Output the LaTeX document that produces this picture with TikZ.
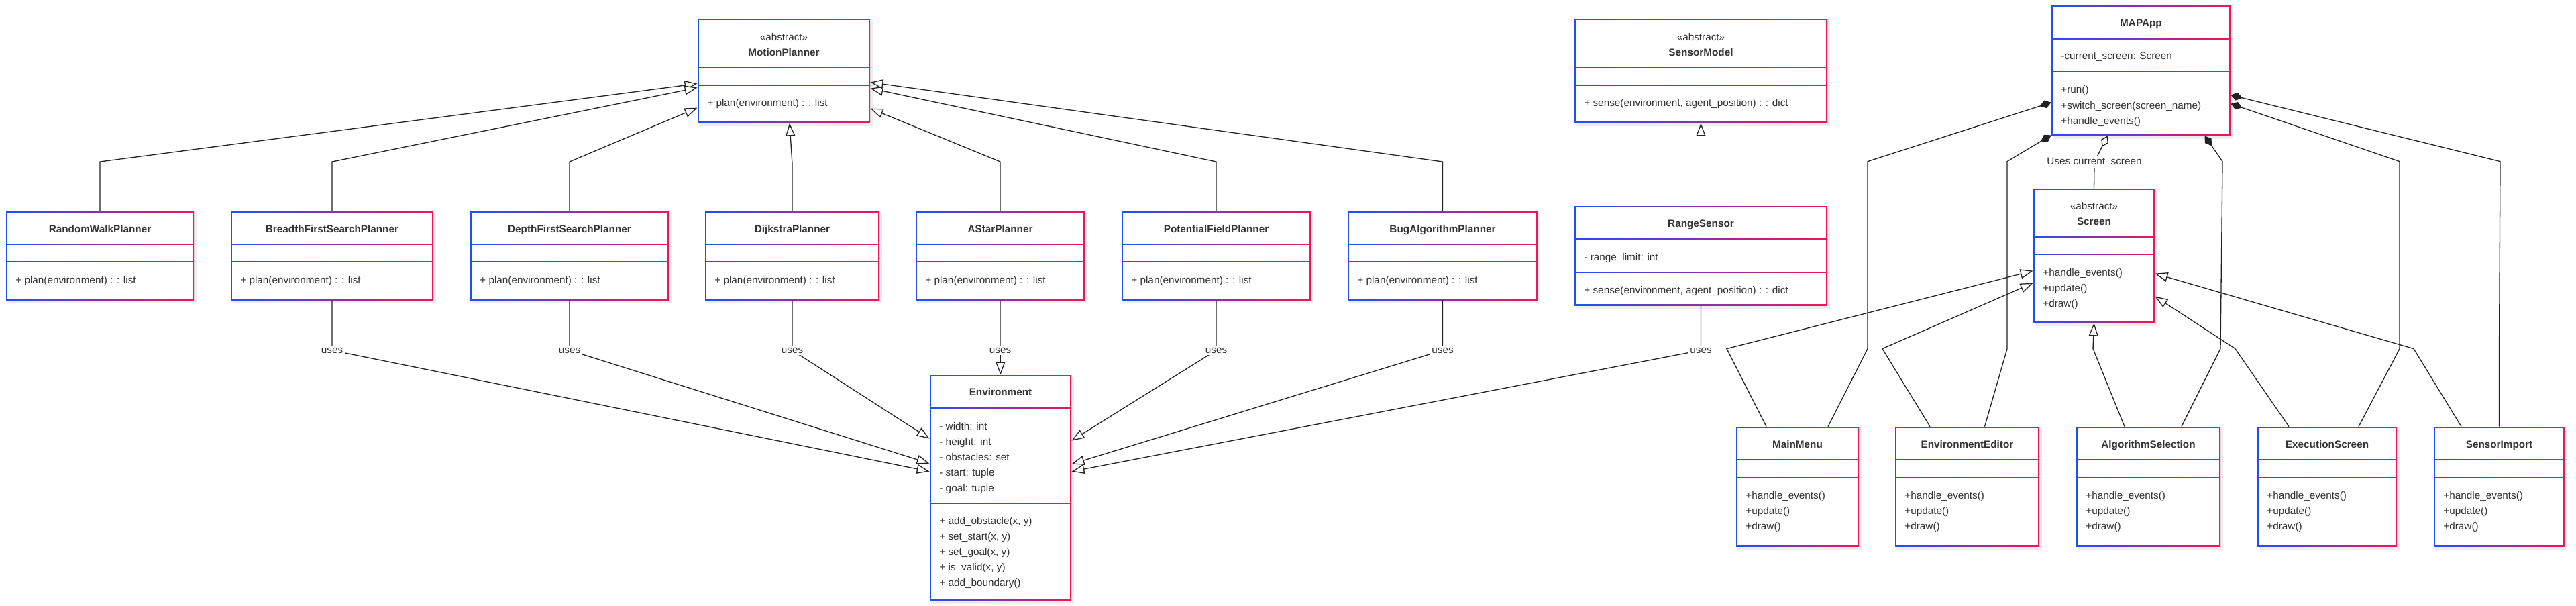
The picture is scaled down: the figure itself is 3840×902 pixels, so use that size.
\documentclass[tikz,border=0pt]{standalone}
\usepackage{fontspec}
\setmainfont{Liberation Sans}
\usetikzlibrary{arrows.meta,calc,fit}
\definecolor{cblue}{HTML}{1E50F5}
\definecolor{cred}{HTML}{F0145A}
\definecolor{txt}{HTML}{333333}
\definecolor{ln}{HTML}{222222}
\newcommand\reg{\fontsize{7.65}{9}\selectfont}
\newcommand\bld{\fontsize{7.65}{9}\selectfont\bfseries}
\tikzset{
  nm/.style={font=\bld, text=txt, inner sep=0pt, anchor=mid},
  attr/.style={font=\reg, text=txt, inner sep=0pt, anchor=mid west},
  conn/.style={draw=ln, line width=0.65pt},
  inh/.style={conn, -{Triangle[open,length=9.5pt,width=7pt,fill=white]}},
  comp/.style={conn, {Diamond[length=9pt,width=6pt,fill=ln]}-},
  aggr/.style={conn, {Diamond[open,length=9pt,width=6pt,fill=white]}-},
  lbl/.style={font=\reg, text=txt, fill=white, inner sep=1.5pt},
  grad/.style={left color=cblue, right color=cred},
}
% #1 id, #2 x1, #3 y1, #4 x2, #5 y2, #6 divider1, #7 divider2
\newcommand\umlbox[7]{%
  \fill[black,opacity=0.07] ($(#2,#3)+(2,3)$) rectangle ($(#4,#5)+(4,5)$);
  \shade[grad] (#2,#3) rectangle (#4,#5);
  \fill[white] ($(#2,#3)+(1.7,1.7)$) rectangle ($(#4,#5)+(-1.7,-1.7)$);
  \shade[grad] (#2,#6-0.8) rectangle (#4,#6+0.8);
  \shade[grad] (#2,#7-0.8) rectangle (#4,#7+0.8);
  \coordinate (#1-nw) at (#2,#3);
  \coordinate (#1-se) at (#4,#5);
  \node[fit=(#1-nw)(#1-se),inner sep=0pt] (#1) {};
}
\newcommand\planner[4]{%
  \umlbox{#1}{#2}{315}{#3}{447}{364}{390}
  \node[nm] (#1-n) at ({(#2+#3)/2},341) {#4};
  \node[attr] (#1-m) at (#2+14,417) {+ plan(environment) : : list};
}
\newcommand\scrbox[4]{%
  \umlbox{#1}{#2}{636}{#3}{814}{685}{712}
  \node[nm] (#1-n) at ({(#2+#3)/2},662) {#4};
  \node[attr] (#1-m1) at (#2+14,738) {+handle\_events()};
  \node[attr] (#1-m2) at (#2+14,761) {+update()};
  \node[attr] (#1-m3) at (#2+14,784) {+draw()};
}
\begin{document}
\begin{tikzpicture}[x=0.5pt,y=-0.5pt]
\useasboundingbox (0,0) rectangle (3840,902);
\coordinate (rowA) at (0,241);
\coordinate (rowB) at (0,522);

% MotionPlanner
\umlbox{mp}{1040}{28}{1297}{183}{101}{127}
\node[font=\reg,text=txt,inner sep=0pt,anchor=mid] (mp-s) at (1168.5,55) {«abstract»};
\node[nm] (mp-n) at (1168.5,78) {MotionPlanner};
\node[attr] (mp-m) at (1054,153) {+ plan(environment) : : list};

% SensorModel
\umlbox{sm}{2347}{28}{2724}{183}{101}{127}
\node[font=\reg,text=txt,inner sep=0pt,anchor=mid] (sm-s) at (2535.5,55) {«abstract»};
\node[nm] (sm-n) at (2535.5,78) {SensorModel};
\node[attr] (sm-m) at (2361,153) {+ sense(environment, agent\_position) : : dict};

% RangeSensor
\umlbox{rs}{2347}{307}{2724}{455}{356}{406}
\node[nm] (rs-n) at (2535.5,333) {RangeSensor};
\node[attr] (rs-a) at (2361,383) {- range\_limit: int};
\node[attr] (rs-m) at (2361,432) {+ sense(environment, agent\_position) : : dict};

% MAPApp
\umlbox{app}{3058}{8}{3325}{202}{58}{107}
\node[nm] (app-n) at (3191.5,34) {MAPApp};
\node[attr] (app-a) at (3072,83) {-current\_screen: Screen};
\node[attr] (app-m1) at (3072,133) {+run()};
\node[attr] (app-m2) at (3072,157) {+switch\_screen(screen\_name)};
\node[attr] (app-m3) at (3072,180) {+handle\_events()};

% Screen
\umlbox{scr}{3031}{281}{3212}{481}{353}{379}
\node[font=\reg,text=txt,inner sep=0pt,anchor=mid] (scr-s) at (3121.5,307) {«abstract»};
\node[nm] (scr-n) at (3121.5,330) {Screen};
\node[attr] (scr-m1) at (3045,406) {+handle\_events()};
\node[attr] (scr-m2) at (3045,429) {+update()};
\node[attr] (scr-m3) at (3045,452) {+draw()};

% Environment
\umlbox{env}{1386}{559}{1597}{895}{608}{750}
\node[nm] (env-n) at (1491.5,584) {Environment};
\node[attr] (env-a1) at (1400,635) {- width: int};
\node[attr] (env-a2) at (1400,658) {- height: int};
\node[attr] (env-a3) at (1400,681) {- obstacles: set};
\node[attr] (env-a4) at (1400,704) {- start: tuple};
\node[attr] (env-a5) at (1400,727) {- goal: tuple};
\node[attr] (env-m1) at (1400,776) {+ add\_obstacle(x, y)};
\node[attr] (env-m2) at (1400,799) {+ set\_start(x, y)};
\node[attr] (env-m3) at (1400,822) {+ set\_goal(x, y)};
\node[attr] (env-m4) at (1400,845) {+ is\_valid(x, y)};
\node[attr] (env-m5) at (1400,868) {+ add\_boundary()};

% Planners
\planner{rw}{9}{289}{RandomWalkPlanner}
\planner{bfs}{344}{646}{BreadthFirstSearchPlanner}
\planner{dfs}{701}{997}{DepthFirstSearchPlanner}
\planner{dij}{1051}{1311}{DijkstraPlanner}
\planner{ast}{1365}{1617}{AStarPlanner}
\planner{pf}{1672}{1954}{PotentialFieldPlanner}
\planner{bug}{2009}{2292}{BugAlgorithmPlanner}

% Screens
\scrbox{mm}{2588}{2771}{MainMenu}
\scrbox{ee}{2825}{3040}{EnvironmentEditor}
\scrbox{as}{3095}{3310}{AlgorithmSelection}
\scrbox{es}{3365}{3573}{ExecutionScreen}
\scrbox{si}{3628}{3823}{SensorImport}

% Inheritance to MotionPlanner
\draw[inh] (rw.north) -- (rw.north |- rowA) -- ($(mp.north west)+(0,97)$);
\draw[inh] (bfs.north) -- (bfs.north |- rowA) -- ($(mp.north west)+(0,103)$);
\draw[inh] (dfs.north) -- (dfs.north |- rowA) -- ($(mp.north west)+(0,133)$);
\draw[inh] (dij.north) -- ($(dij.north)+(0,-70)$) -- ($(mp.south)+(8.5,0)$);
\draw[inh] (ast.north) -- (ast.north |- rowA) -- ($(mp.north east)+(0,134)$);
\draw[inh] (pf.north) -- (pf.north |- rowA) -- ($(mp.north east)+(0,104)$);
\draw[inh] (bug.north) -- (bug.north |- rowA) -- ($(mp.north east)+(0,95)$);

% RangeSensor -> SensorModel
\draw[inh] (rs.north) -- (sm.south);

% uses -> Environment
\draw[inh] (bfs.south) -- (bfs.south |- rowB) node[lbl] (u-bfs) {uses} -- ($(env.north west)+(0,144)$);
\draw[inh] (dfs.south) -- (dfs.south |- rowB) node[lbl] (u-dfs) {uses} -- ($(env.north west)+(0,132)$);
\draw[inh] (dij.south) -- (dij.south |- rowB) node[lbl] (u-dij) {uses} -- ($(env.north west)+(0,95)$);
\draw[inh] (ast.south) -- (ast.south |- rowB) node[lbl] (u-ast) {uses} -- (env.north);
\draw[inh] (pf.south) -- (pf.south |- rowB) node[lbl] (u-pf) {uses} -- ($(env.north east)+(0,98)$);
\draw[inh] (bug.south) -- (bug.south |- rowB) node[lbl] (u-bug) {uses} -- ($(env.north east)+(0,133)$);
\draw[inh] (rs.south) -- (rs.south |- rowB) node[lbl] (u-rs) {uses} -- ($(env.north east)+(0,144)$);

% Compositions MAPApp -> screens
\draw[comp] ($(app.north west)+(0,145)$) -- ($(mm.north)+(104.5,-395)$) -- ($(mm.north)+(104.5,-116)$) -- ($(mm.north)+(45.5,0)$);
\draw[comp] ($(app.south west)+(0,-1)$) -- ($(ee.north)+(59.5,-395)$) -- ($(ee.north)+(59.5,-116)$) -- ($(ee.north)+(26,0)$);
\draw[comp] ($(app.south west)+(229,0)$) -- ($(as.north)+(110.5,-395)$) -- ($(as.north)+(107.5,-116)$) -- ($(as.north)+(49.5,0)$);
\draw[comp] ($(app.north east)+(0,147)$) -- ($(es.north)+(108,-395)$) -- ($(es.north)+(108,-116)$) -- ($(es.north)+(47,0)$);
\draw[comp] ($(app.north east)+(0,134)$) -- ($(si.north)+(1.5,-395)$) -- ($(si.north)+(0,-116)$) -- (si.north);

% Aggregation MAPApp -> Screen
\draw[aggr] ($(app.south west)+(84,0)$) -- ($(scr.north)+(0.5,-39)$) node[lbl] (u-app) {Uses current\_screen} -- (scr.north);

% Inheritance screens -> Screen
\draw[inh] ($(mm.north)+(-46.5,0)$) -- ($(mm.north)+(-105.5,-116)$) -- ($(scr.north west)+(0,123)$);
\draw[inh] ($(ee.north)+(-55.5,0)$) -- ($(ee.north)+(-126.5,-116)$) -- ($(scr.north west)+(0,141)$);
\draw[inh] ($(as.north)+(-35.5,0)$) -- ($(as.north)+(-82.5,-116)$) -- (scr.south);
\draw[inh] ($(es.north)+(-57,0)$) -- ($(es.north)+(-137,-116)$) -- ($(scr.north east)+(0,161)$);
\draw[inh] ($(si.north)+(-56.5,0)$) -- ($(si.north)+(-127.5,-116)$) -- ($(scr.north east)+(0,127)$);
\end{tikzpicture}
\end{document}
